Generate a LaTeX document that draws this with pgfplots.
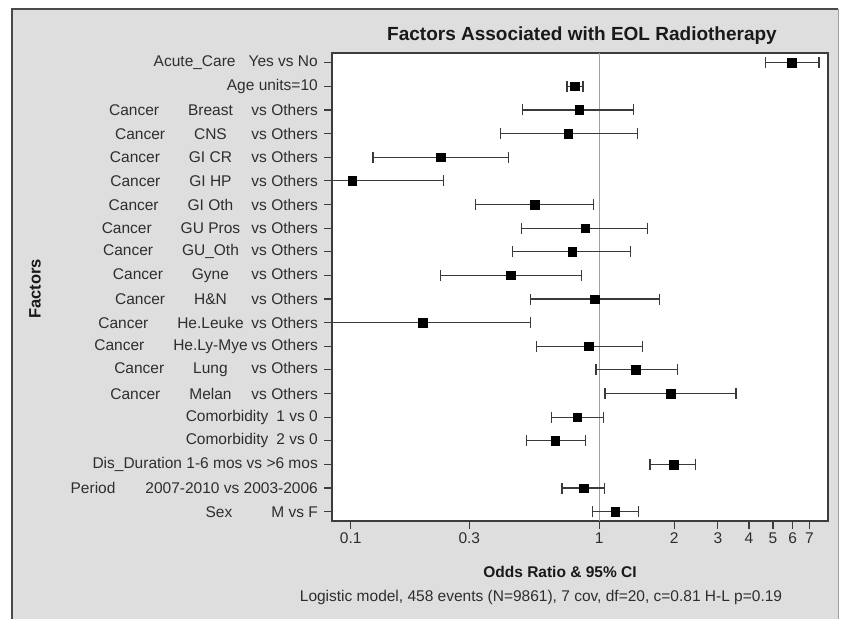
\documentclass[border=0pt]{standalone}
\usepackage{fontspec}
\setmainfont{Liberation Sans}
\usepackage{pgfplots}
\usepackage{pgfplotstable}
\pgfplotsset{compat=1.18}

\definecolor{panel}{HTML}{DEDEDE}
\definecolor{framec}{HTML}{4A4A4A}
\definecolor{axline}{HTML}{3C3C3C}
\definecolor{txt}{HTML}{2E2E2E}
\definecolor{barc}{HTML}{3A3A3A}
\definecolor{refl}{HTML}{A0A0A0}

% odds ratio with 95% CI, y=1 is the bottom row (Sex)
\pgfplotstableread{
y  or     lo     hi
20 5.96   4.68   7.65
19 0.798  0.741  0.86
18 0.829  0.492  1.37
17 0.75   0.401  1.42
16 0.230  0.123  0.430
15 0.1015 0.07   0.236
14 0.55   0.318  0.946
13 0.878  0.486  1.566
12 0.779  0.447  1.338
11 0.44   0.23   0.85
10 0.961  0.53   1.743
9  0.195  0.06   0.53
8  0.909  0.56   1.495
7  1.40   0.97   2.07
6  1.943  1.054  3.55
5  0.816  0.641  1.041
4  0.665  0.511  0.882
3  1.992  1.60   2.43
2  0.868  0.708  1.051
1  1.157  0.937  1.435
}\ortab

\newcommand\lab{\fontsize{15.5bp}{18bp}\selectfont}
\newcommand\cl[1]{\makebox[52bp][c]{\llap{Cancer\hspace{29bp}}#1}\hspace{15bp}vs Others}

\begin{document}
\begin{tikzpicture}
\useasboundingbox (0,0) rectangle (842bp,619bp);
\fill[white] (0,0) rectangle (842bp,619bp);
\fill[panel] (12bp,0) rectangle (838bp,610bp);
\draw[refl, line width=1bp] (838bp,610bp) -- (838bp,0);
\draw[framec, line width=2.2bp] (12bp,0) -- (12bp,610bp) -- (838bp,610bp);

\begin{axis}[
  at={(332bp,98bp)}, anchor=south west,
  width=496bp, height=468bp, scale only axis,
  xmode=log, xmin=0.0841, xmax=8.32,
  ymin=0.606, ymax=20.41,
  axis background/.style={fill=white},
  axis line style={axline, line width=1.4bp},
  tick style={axline, line width=1.2bp},
  tick align=outside, major tick length=8bp,
  tick pos=left,
  xtick={0.1,0.3,1,2,3,4,5,6,7},
  xticklabels={0.1,0.3,1,2,3,4,5,6,7},
  xminorticks=false,
  ytick={1,...,20},
  yticklabels={
    {Sex\hspace{39bp}M vs F},
    {Period\hspace{30bp}2007-2010 vs 2003-2006},
    {Dis\_Duration 1-6 mos vs >6 mos},
    {Comorbidity\hspace{8bp}2 vs 0},
    {Comorbidity\hspace{8bp}1 vs 0},
    {\cl{Melan}},
    {\cl{Lung}},
    {\cl{He.Ly-Mye}},
    {\cl{He.Leuke}},
    {\cl{H\&N}},
    {\cl{Gyne}},
    {\cl{GU\_Oth}},
    {\cl{GU Pros}},
    {\cl{GI Oth}},
    {\cl{GI HP}},
    {\cl{GI CR}},
    {\cl{CNS}},
    {\cl{Breast}},
    {Age units=10},
    {Acute\_Care\hspace{13bp}Yes vs No}},
  yticklabel style={font=\lab, text=txt, inner sep=2bp, xshift=-4bp},
  xticklabel style={font=\lab, text=txt},
]
\addplot[refl, line width=1.2bp, forget plot] coordinates {(1,0.606) (1,20.41)};
\addplot[only marks, mark=square*, mark size=4.3bp, mark options={fill=black, draw=black},
  error bars/.cd, x dir=both, x explicit,
  error bar style={barc, line width=1.2bp},
  error mark options={barc, mark size=5.5bp, line width=1.2bp, rotate=90}]
  table[x=or, y=y,
    x error plus expr=\thisrow{hi}-\thisrow{or},
    x error minus expr=\thisrow{or}-\thisrow{lo}] {\ortab};
\end{axis}

\node[font=\fontsize{19bp}{22bp}\selectfont\bfseries, text=black!90] at (582bp,583bp) {Factors Associated with EOL Radiotherapy};
\node[font=\fontsize{16.5bp}{19bp}\selectfont\bfseries, text=black!90, rotate=90] at (35bp,330bp) {Factors};
\node[font=\fontsize{15.5bp}{18bp}\selectfont\bfseries, text=black!90] at (560bp,47bp) {Odds Ratio \& 95\% CI};
\node[font=\lab, text=txt] at (541bp,22bp) {Logistic model, 458 events (N=9861), 7 cov, df=20, c=0.81 H-L p=0.19};
\end{tikzpicture}
\end{document}
